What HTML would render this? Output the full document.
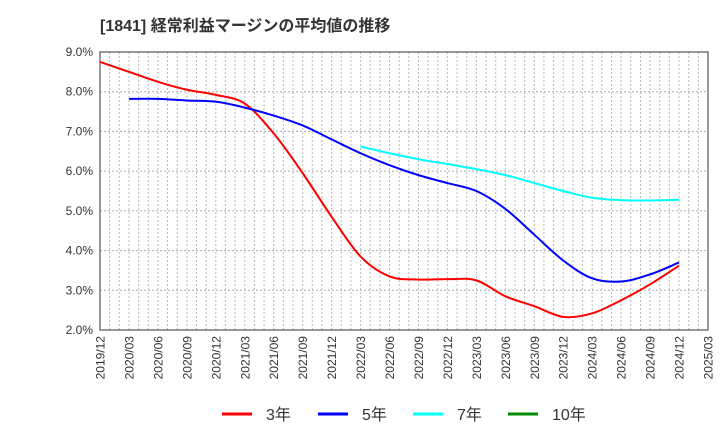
<!DOCTYPE html>
<html><head><meta charset="utf-8"><style>
body{margin:0;background:#fff;font-family:"Liberation Sans","Noto Sans CJK JP",sans-serif}
</style></head><body>
<svg id="c" width="720" height="440" xmlns="http://www.w3.org/2000/svg" style="font-family:'Liberation Sans','Noto Sans CJK JP',sans-serif"></svg>
<script>
const xLabels=["2019/12","2020/03","2020/06","2020/09","2020/12","2021/03","2021/06","2021/09","2021/12","2022/03","2022/06","2022/09","2022/12","2023/03","2023/06","2023/09","2023/12","2024/03","2024/06","2024/09","2024/12","2025/03"];
const yTicks=[2,3,4,5,6,7,8,9];
const s3=[8.75,8.5,8.25,8.05,7.92,7.7,6.95,5.95,4.85,3.85,3.35,3.27,3.28,3.25,2.85,2.6,2.33,2.42,2.75,3.15,3.62];
const s5=[null,7.82,7.82,7.78,7.75,7.6,7.4,7.15,6.8,6.45,6.15,5.9,5.7,5.5,5.05,4.4,3.75,3.3,3.22,3.4,3.7];
const s7=[null,null,null,null,null,null,null,null,null,6.62,6.45,6.3,6.18,6.05,5.9,5.7,5.5,5.33,5.27,5.26,5.28];
const s10=[];
const L=100,R=708,T=52,B=330;
const x=i=>L+(R-L)*i/(xLabels.length-1);
const y=v=>B-(B-T)*(v-2)/7;
const svg=document.getElementById('c');
const NS='http://www.w3.org/2000/svg';
function mk(t,a,p){const e=document.createElementNS(NS,t);for(const k in a)e.setAttribute(k,a[k]);(p||svg).appendChild(e);return e;}
let t=mk('text',{x:100,y:31,'font-size':16,'font-weight':'bold',fill:'#333'});t.textContent='[1841]  経常利益マージンの平均値の推移';

const g=mk('g',{});
for(let m=1;m<63;m++){const xx=L+(R-L)*m/63;mk('line',{x1:xx,x2:xx,y1:T,y2:B,stroke:'#bbb','stroke-dasharray':'2,2','stroke-width':1},g);}
yTicks.forEach(v=>{mk('line',{x1:L,x2:R,y1:y(v),y2:y(v),stroke:'#aaa','stroke-dasharray':'2,2'},g);
 const tx=mk('text',{x:L-7,y:y(v)+4,'text-anchor':'end','font-size':12,fill:'#333'});tx.textContent=v.toFixed(1)+'%';
 });
const fr=mk('rect',{x:L,y:T,width:R-L,height:B-T,fill:'none',stroke:'#333'});

xLabels.forEach((l,i)=>{const tx=mk('text',{transform:`translate(${x(i)+4.5},${B+6}) rotate(-90)`,'text-anchor':'end','font-size':12,fill:'#333'});tx.textContent=l;
 });
function path(arr){const p=[];arr.forEach((v,i)=>{if(v!=null)p.push([x(i),y(v)]);});if(p.length<2)return '';
 let d=`M${p[0][0]},${p[0][1]}`;for(let i=0;i<p.length-1;i++){const p0=p[i-1]||p[i],p1=p[i],p2=p[i+1],p3=p[i+2]||p2;
 d+=`C${p1[0]+(p2[0]-p0[0])/6},${p1[1]+(p2[1]-p0[1])/6} ${p2[0]-(p3[0]-p1[0])/6},${p2[1]-(p3[1]-p1[1])/6} ${p2[0]},${p2[1]}`;}return d;}
const series=[[s3,'#f00','3年','series-3y'],[s5,'#00f','5年','series-5y'],[s7,'#0ff','7年','series-7y'],[s10,'#080','10年','series-10y']];
series.forEach(([a,c,n,dn])=>{const d=path(a);if(d){const p=mk('path',{d,fill:'none',stroke:c,'stroke-width':2});}});
const lx=[222,318,413,508];
series.forEach(([a,c,n,dn],i)=>{const lg=mk('g',{});
 mk('line',{x1:lx[i],x2:lx[i]+30,y1:414,y2:414,stroke:c,'stroke-width':3},lg);
 const tx=mk('text',{x:lx[i]+44,y:420,'font-size':16,fill:'#333'},lg);tx.textContent=n;});
</script>
</body></html>
